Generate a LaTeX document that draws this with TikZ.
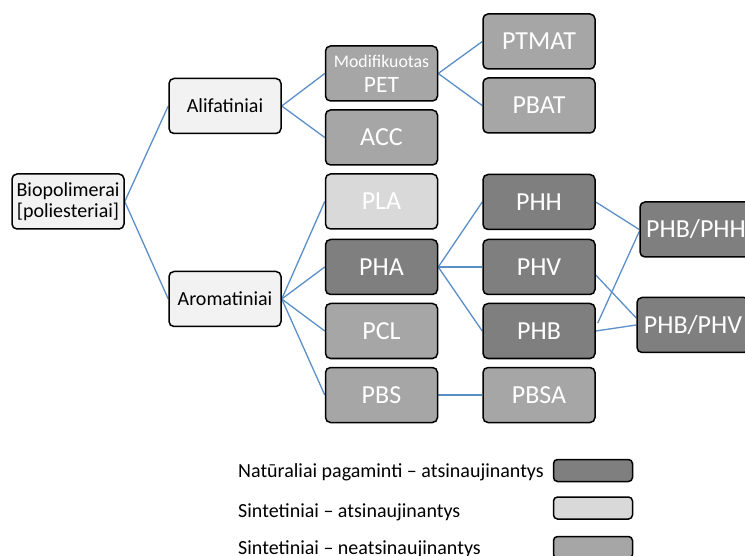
\documentclass[tikz,border=0pt]{standalone}
\usepackage{fontspec}
\setmainfont{Carlito}
\usetikzlibrary{backgrounds}
\definecolor{lightbox}{HTML}{F2F2F2}
\definecolor{plabox}{HTML}{D9D9D9}
\definecolor{midbox}{HTML}{A6A6A6}
\definecolor{darkbox}{HTML}{7F7F7F}
\definecolor{conn}{HTML}{5B8FC8}
\tikzset{
  x=1pt, y=-1pt,
  box/.style={draw=black, line width=1.5pt, rounded corners=5pt,
    minimum width=112pt, minimum height=55pt, inner sep=1pt, align=center},
  catbox/.style={box, fill=lightbox, text=black, font=\fontsize{20}{22}\selectfont},
  natbox/.style={box, fill=darkbox, text=white, font=\fontsize{26}{28}\selectfont},
  midb/.style={box, fill=midbox, text=white, font=\fontsize{26}{28}\selectfont},
  plab/.style={box, fill=plabox, text=white, font=\fontsize{26}{28}\selectfont},
  legbox/.style={draw=black, line width=1.5pt, rounded corners=4pt,
    minimum width=79pt, minimum height=22pt, inner sep=0pt},
  legtext/.style={anchor=base west, inner sep=0pt, font=\fontsize{20}{22}\selectfont},
  link/.style={draw=conn, line width=1.3pt}
}
\begin{document}
\begin{tikzpicture}
\useasboundingbox (0,0) rectangle (745,556);
\clip (0,0) rectangle (745,556);
% column 1
\node[catbox] (bio) at (68,201.5) {Biopolimerai\\[-1pt][poliesteriai]};
% column 2
\node[catbox] (ali) at (225,106) {Alifatiniai};
\node[catbox] (aro) at (225,299) {Aromatiniai};
% column 3
\node[midb, font=\fontsize{23.5}{25}\selectfont] (pet) at (381.5,73.5) {{\fontsize{17.8}{18}\selectfont Modifikuotas}\\PET};
\node[midb] (acc) at (381.5,137.5) {ACC};
\node[plab] (pla) at (381.5,201.5) {PLA};
\node[natbox] (pha) at (381.5,267) {PHA};
\node[midb] (pcl) at (381.5,331) {PCL};
\node[midb] (pbs) at (381.5,395) {PBS};
% column 4
\node[midb] (ptmat) at (539,41.5) {PTMAT};
\node[midb] (pbat) at (539,105.5) {PBAT};
\node[natbox] (phh) at (539,202) {PHH};
\node[natbox] (phv) at (539,267) {PHV};
\node[natbox] (phb) at (539,331) {PHB};
\node[midb] (pbsa) at (539,395) {PBSA};
% column 5
\node[natbox] (phbphh) at (696,229.5) {PHB/PHH};
\node[natbox] (phbphv) at (693,325) {PHB/PHV};
% connectors
\begin{pgfonlayer}{background}
\draw[link] (bio.east) -- (ali.west);
\draw[link] (bio.east) -- (aro.west);
\draw[link] (ali.east) -- (pet.west);
\draw[link] (ali.east) -- (acc.west);
\draw[link] (pet.east) -- (ptmat.west);
\draw[link] (pet.east) -- (pbat.west);
\draw[link] (aro.east) -- (pla.west);
\draw[link] (aro.east) -- (pha.west);
\draw[link] (aro.east) -- (pcl.west);
\draw[link] (aro.east) -- (pbs.west);
\draw[link] (pha.east) -- (phh.west);
\draw[link] (pha.east) -- (phv.west);
\draw[link] (pha.east) -- (phb.west);
\draw[link] (pbs.east) -- (pbsa.west);
\draw[link] (phh.east) -- (phbphh.west);
\draw[link] ([yshift=-8pt]phv.east) -- ([yshift=7pt]phbphv.west);
\draw[link] ([xshift=2pt,yshift=8pt]phb.east) -- ([yshift=-2pt]phbphh.west);
\draw[link] (phb.east) -- (phbphv.west);
\end{pgfonlayer}
% legend
\node[legtext] (l1) at (238,477) {Natūraliai pagaminti – atsinaujinantys};
\node[legtext] (l2) at (238,517) {Sintetiniai – atsinaujinantys};
\node[legtext] (l3) at (238,554.5) {Sintetiniai – neatsinaujinantys};
\node[legbox, fill=darkbox] (k1) at (593,470.5) {};
\node[legbox, fill=plabox] (k2) at (593,508) {};
\node[legbox, fill=midbox] (k3) at (593,547.5) {};
\end{tikzpicture}
\end{document}
